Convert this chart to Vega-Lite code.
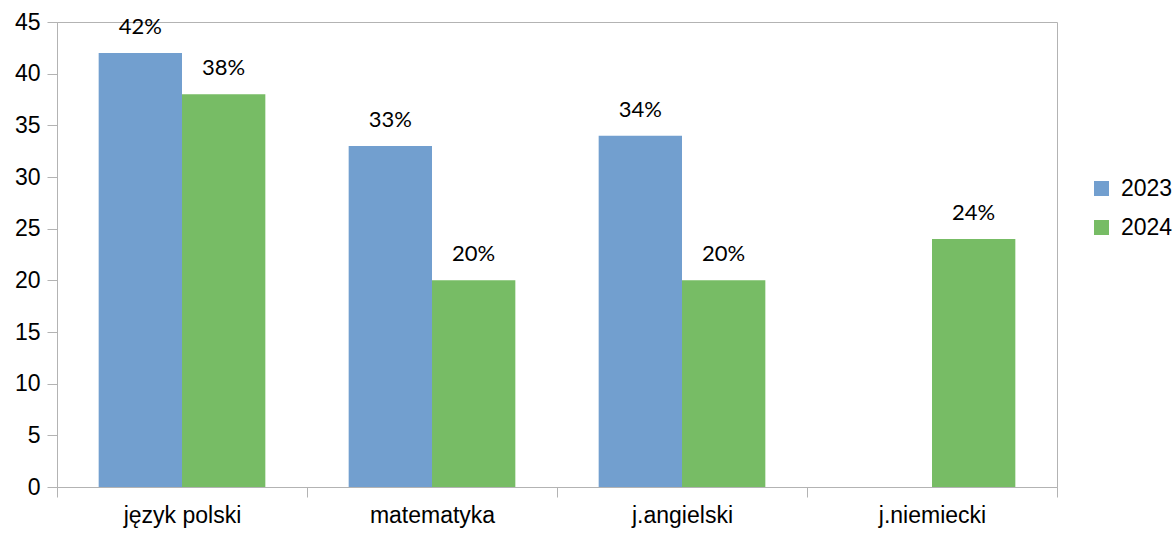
{
  "$schema": "https://vega.github.io/schema/vega-lite/v6.json",
  "autosize": {"type": "none"},
  "width": 1000,
  "height": 465,
  "padding": {"left": 57, "top": 22, "right": 118, "bottom": 48},
  "background": "white",
  "config": {
    "view": {"stroke": "#b3b3b3", "strokeWidth": 1},
    "font": "Liberation Sans"
  },
  "data": {
    "values": [
      {"subject": "język polski", "year": "2023", "value": 42, "label": "42%"},
      {"subject": "język polski", "year": "2024", "value": 38, "label": "38%"},
      {"subject": "matematyka", "year": "2023", "value": 33, "label": "33%"},
      {"subject": "matematyka", "year": "2024", "value": 20, "label": "20%"},
      {"subject": "j.angielski", "year": "2023", "value": 34, "label": "34%"},
      {"subject": "j.angielski", "year": "2024", "value": 20, "label": "20%"},
      {"subject": "j.niemiecki", "year": "2024", "value": 24, "label": "24%"}
    ]
  },
  "encoding": {
    "x": {
      "field": "subject", "type": "nominal", "sort": null,
      "scale": {"paddingInner": 0, "paddingOuter": 0},
      "axis": {
        "title": null, "labelAngle": 0, "labelFontSize": 23, "labelColor": "black",
        "labelFont": "Liberation Sans",
        "tickBand": "extent", "tickSize": 10, "tickColor": "#b3b3b3",
        "domainColor": "#b3b3b3", "labelPadding": 7, "grid": false
      }
    },
    "xOffset": {
      "field": "year", "type": "nominal",
      "scale": {"domain": ["2023", "2024"], "paddingInner": 0, "paddingOuter": 0.5}
    },
    "y": {
      "field": "value", "type": "quantitative",
      "scale": {"domain": [0, 45], "nice": false},
      "axis": {
        "title": null, "values": [0, 5, 10, 15, 20, 25, 30, 35, 40, 45],
        "labelFontSize": 23, "labelColor": "black", "labelFont": "Liberation Sans",
        "tickSize": 10, "tickColor": "#b3b3b3", "domainColor": "#b3b3b3",
        "labelPadding": 7, "grid": false
      }
    }
  },
  "layer": [
    {
      "mark": {"type": "bar"},
      "encoding": {
        "color": {
          "field": "year", "type": "nominal",
          "scale": {"domain": ["2023", "2024"], "range": ["#729fcf", "#77bc65"]},
          "legend": {
            "title": null, "orient": "none", "legendX": 1033, "legendY": 155,
            "symbolType": "square", "symbolSize": 225, "symbolStrokeWidth": 0,
            "labelFontSize": 23, "labelFont": "Liberation Sans", "labelColor": "black",
            "rowPadding": 15, "labelOffset": 8
          }
        }
      }
    },
    {
      "mark": {"type": "text", "baseline": "bottom", "dy": -14, "fontSize": 22, "font": "Lato", "color": "black"},
      "encoding": {
        "text": {"field": "label", "type": "nominal"}
      }
    }
  ]
}
